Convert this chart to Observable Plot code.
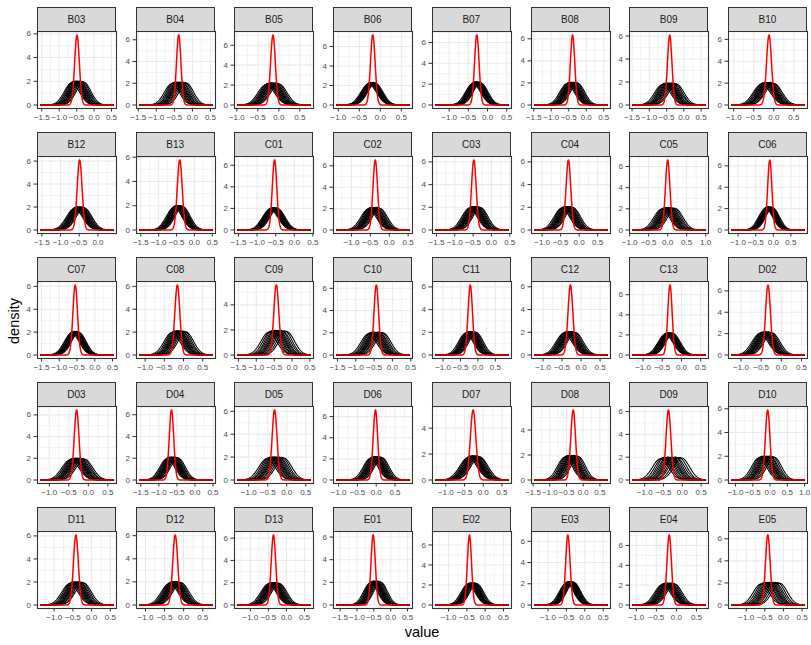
<!DOCTYPE html>
<html>
<head>
<meta charset="utf-8">
<script src="https://cdn.jsdelivr.net/npm/d3@7"></script>
<script src="https://cdn.jsdelivr.net/npm/@observablehq/plot@0.6"></script>
<style>
  html, body { margin: 0; padding: 0; background: #fff; }
  #chart { position: relative; width: 811px; height: 645px; font-family: "Liberation Sans", Arial, sans-serif; }
  .strip { position: absolute; box-sizing: border-box; background: #D9D9D9; border: 1px solid #333333;
           color: #1A1A1A; font-size: 10px; font-weight: normal; display: flex; align-items: center; justify-content: center; }
  .panel { position: absolute; }
  .panel svg { overflow: visible; }
  .title { position: absolute; color: #000; font-size: 14.5px; }
</style>
</head>
<body>
<div id="chart"></div>
<script>
// ---- data ----
const panels = ["B03","B04","B05","B06","B07","B08","B09","B10",
                "B12","B13","C01","C02","C03","C04","C05","C06",
                "C07","C08","C09","C10","C11","C12","C13","D02",
                "D03","D04","D05","D06","D07","D08","D09","D10",
                "D11","D12","D13","E01","E02","E03","E04","E05"];
// range of the observed values in each panel
const xMin = [-1.52,-1.45,-0.97,-1.03,-1.34,-1.46,-1.47,-1.04,
              -1.52,-1.52,-1.51,-1.38,-1.51,-1.19,-0.91,-1.17,
              -1.51,-1.13,-1.51,-1.51,-1.20,-1.21,-1.26,-1.22,
              -1.21,-1.52,-1.28,-1.04,-1.26,-1.44,-1.31,-1.10,
              -1.35,-1.14,-1.34,-1.59,-1.34,-1.35,-1.08,-1.38];
const xMax = [0.54,0.54,0.74,0.68,0.53,0.59,0.61,0.75,
              0.40,0.49,0.42,0.52,0.45,0.75,0.98,0.87,
              0.51,0.74,0.50,0.45,0.86,0.68,0.61,0.56,
              0.63,0.47,0.61,0.87,0.66,0.71,0.60,0.98,
              0.57,0.74,0.65,0.54,0.62,0.60,0.71,0.55];
// red (pooled) density: location and peak height
const redMean = [-0.49,-0.38,-0.14,-0.18,-0.28,-0.39,-0.41,-0.12,
                 -0.49,-0.41,-0.53,-0.37,-0.48,-0.29,0.00,-0.10,
                 -0.55,-0.16,-0.44,-0.44,-0.22,-0.28,-0.30,-0.33,
                 -0.30,-0.65,-0.32,-0.02,-0.27,-0.30,-0.37,-0.07,
                 -0.42,-0.22,-0.36,-0.52,-0.43,-0.46,-0.18,-0.42];
const redPeak = [5.90,6.46,7.03,7.19,6.73,6.36,6.09,6.40,
                 6.10,5.78,6.50,6.55,6.17,6.17,6.62,6.55,
                 6.12,6.12,5.60,6.30,6.17,6.17,6.98,6.55,
                 6.45,6.45,6.12,6.63,5.40,5.60,6.15,5.90,
                 6.08,6.06,6.30,6.20,7.00,6.60,7.07,6.36];
// black (individual) densities: centre of the group, half-spread of locations, peak height
const blackCenter = [-0.47,-0.37,-0.15,-0.20,-0.28,-0.40,-0.42,-0.15,
                     -0.50,-0.45,-0.55,-0.40,-0.45,-0.32,0.02,-0.12,
                     -0.55,-0.12,-0.40,-0.45,-0.20,-0.30,-0.32,-0.38,
                     -0.28,-0.62,-0.30,0.00,-0.25,-0.35,-0.30,-0.10,
                     -0.40,-0.22,-0.35,-0.45,-0.35,-0.40,-0.20,-0.35];
const blackSpread = [0.17,0.20,0.15,0.08,0.10,0.15,0.20,0.15,
                     0.13,0.12,0.10,0.15,0.15,0.15,0.18,0.10,
                     0.10,0.18,0.25,0.20,0.15,0.15,0.10,0.15,
                     0.18,0.15,0.22,0.15,0.15,0.20,0.28,0.22,
                     0.18,0.15,0.15,0.15,0.12,0.10,0.15,0.25];
const blackPeak = [2.00,2.10,2.20,2.30,2.20,2.05,1.90,2.05,
                   2.00,2.00,2.05,2.10,2.05,2.05,2.10,2.15,
                   2.05,2.10,1.95,2.05,2.05,2.05,2.20,2.15,
                   2.00,2.10,2.00,2.20,1.85,1.95,2.00,2.00,
                   2.00,2.00,2.00,2.10,2.20,2.20,2.20,2.05];
// relative placement and relative height of the individual curves inside a panel
const curveOffset = [-1,-0.78,-0.6,-0.44,-0.3,-0.16,-0.04,0.08,0.22,0.38,0.55,0.76,1];
const curveHeight = [0.93,0.97,1.0,0.98,1.01,0.99,1.0,1.0,0.98,1.01,0.97,0.99,0.96];

// ---- layout ----
const ncol = 8;
const PW = 79, PH = 77;
const ML = 26, MR = 3, MT = 3, MB = 20;
const colLeft = c => 37 + c * 98.7;
const rowTop = r => 31 + r * 125;

const chart = document.getElementById("chart");
const fmtX = d3.format(".1f");
const SQ2PI = Math.sqrt(2 * Math.PI);
const gauss = (x, m, s) => Math.exp(-0.5 * ((x - m) / s) ** 2) / (s * SQ2PI);

panels.forEach((name, i) => {
  const c = i % ncol, r = Math.floor(i / ncol);
  const lo = xMin[i], hi = xMax[i];
  const xs = d3.range(201).map(k => lo + (hi - lo) * k / 200);
  const black = [];
  curveOffset.forEach((o, j) => {
    const pk = blackPeak[i] * curveHeight[j];
    const sd = 1 / (pk * SQ2PI);
    const m = blackCenter[i] + o * blackSpread[i];
    xs.forEach(x => black.push({id: j, x, y: gauss(x, m, sd)}));
  });
  const rsd = 1 / (redPeak[i] * SQ2PI);
  const red = xs.map(x => ({x, y: gauss(x, redMean[i], rsd)}));
  const ymaxData = Math.max(d3.max(black, d => d.y), d3.max(red, d => d.y));
  const xpad = (hi - lo) * 0.05, ypad = ymaxData * 0.05;
  const xd = [lo - xpad, hi + xpad], yd = [-ypad, ymaxData + ypad];
  const xt = d3.range(Math.ceil(xd[0] / 0.5), Math.floor(xd[1] / 0.5) + 1).map(k => k * 0.5);
  const xm = d3.range(Math.ceil(xd[0] / 0.5 - 0.5), Math.floor(xd[1] / 0.5 - 0.5) + 1).map(k => (k + 0.5) * 0.5);
  const yt = d3.range(0, Math.floor(yd[1] / 2) + 1).map(k => k * 2);
  const ym = d3.range(0, Math.floor((yd[1] - 1) / 2) + 1).map(k => k * 2 + 1);

  const plot = Plot.plot({
    width: PW + ML + MR, height: PH + MT + MB,
    marginLeft: ML, marginRight: MR, marginTop: MT, marginBottom: MB,
    style: {fontFamily: "'Liberation Sans', Arial, sans-serif", fontSize: "8px", background: "transparent", overflow: "visible"},
    x: {domain: xd, label: null},
    y: {domain: yd, label: null},
    marks: [
      Plot.frame({fill: "white"}),
      Plot.ruleX(xm, {stroke: "#EBEBEB", strokeWidth: 0.6}),
      Plot.ruleY(ym, {stroke: "#EBEBEB", strokeWidth: 0.6}),
      Plot.ruleX(xt, {stroke: "#EBEBEB", strokeWidth: 1.1}),
      Plot.ruleY(yt, {stroke: "#EBEBEB", strokeWidth: 1.1}),
      Plot.line(black, {x: "x", y: "y", z: "id", stroke: "#000", strokeWidth: 1.05}),
      Plot.line(red, {x: "x", y: "y", stroke: "#FF0000", strokeWidth: 1.5}),
      Plot.frame({stroke: "#333333", strokeWidth: 1.1, strokeOpacity: 1}),
      Plot.axisX({ticks: xt, tickFormat: fmtX, tickSize: 3.5, tickPadding: 2, stroke: "#333333", fill: "#4D4D4D", fontSize: 8, label: null}),
      Plot.axisY({ticks: yt, tickFormat: d3.format("d"), tickSize: 3.5, tickPadding: 3, stroke: "#333333", fill: "#4D4D4D", fontSize: 8, label: null})
    ]
  });
  const wrap = document.createElement("div");
  wrap.className = "panel";
  wrap.style.left = (colLeft(c) - ML) + "px";
  wrap.style.top = (rowTop(r) - MT) + "px";
  wrap.appendChild(plot);
  chart.appendChild(wrap);

  const strip = document.createElement("div");
  strip.className = "strip";
  strip.style.left = colLeft(c) + "px";
  strip.style.top = (rowTop(r) - 24) + "px";
  strip.style.width = PW + "px";
  strip.style.height = "24.5px";
  strip.textContent = name;
  chart.appendChild(strip);
});

const xt = document.createElement("div");
xt.className = "title";
xt.textContent = "value";
xt.style.left = "0px"; xt.style.width = (2 * 422) + "px"; xt.style.textAlign = "center";
xt.style.top = "624px";
chart.appendChild(xt);

const yt = document.createElement("div");
yt.className = "title";
yt.textContent = "density";
yt.style.left = "14px"; yt.style.top = "321px";
yt.style.transform = "translate(-50%, -50%) rotate(-90deg)";
chart.appendChild(yt);
</script>
</body>
</html>
